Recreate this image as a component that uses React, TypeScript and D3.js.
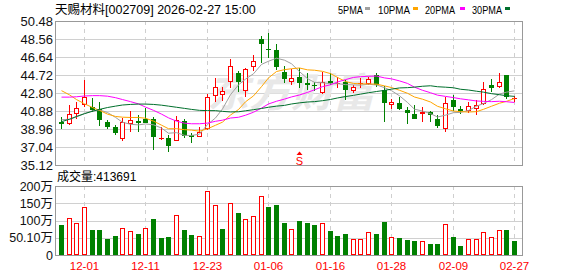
import React from 'react';
import * as d3 from 'd3';

const dates = [
  '11-26','11-27','11-28','12-01','12-02','12-03','12-04','12-05','12-08','12-09',
  '12-10','12-11','12-12','12-15','12-16','12-17','12-18','12-19','12-22','12-23',
  '12-24','12-25','12-26','12-29','12-30','12-31','01-05','01-06','01-07','01-08',
  '01-09','01-12','01-13','01-14','01-15','01-16','01-19','01-20','01-21','01-22',
  '01-23','01-26','01-27','01-28','01-29','01-30','02-02','02-03','02-04','02-05',
  '02-06','02-09','02-10','02-11','02-12','02-13','02-24','02-25','02-26','02-27'
];

const openP = [
  39.71,39.46,40.52,41.49,41.27,41.06,39.71,39.14,37.93,39.49,
  39.80,40.03,40.03,37.96,37.96,37.72,39.81,38.32,38.14,39.00,
  42.52,42.62,44.01,44.97,43.05,45.54,48.56,47.46,47.39,45.00,
  44.01,44.54,43.90,43.65,42.77,44.08,43.80,44.01,43.05,43.80,
  43.72,44.72,43.12,41.49,41.70,40.99,40.56,40.52,40.74,39.99,
  38.92,42.05,41.09,40.92,41.06,41.63,43.65,43.40,44.72,42.12
];
const highP = [
  40.28,41.52,41.88,44.19,42.27,41.84,39.92,39.39,40.10,40.92,
  40.45,41.17,40.28,39.21,38.32,40.35,40.06,38.57,39.14,42.69,
  44.36,43.48,46.39,45.18,45.50,46.85,48.88,49.17,48.03,45.68,
  45.32,45.43,44.97,44.01,45.07,44.97,44.54,44.19,43.65,44.40,
  44.54,44.90,43.58,42.16,42.41,41.27,41.52,41.27,40.92,40.45,
  42.41,42.59,41.41,41.84,42.05,44.01,44.26,44.97,44.72,42.48
];
const lowP = [
  39.00,39.40,40.03,41.27,40.81,39.28,38.93,38.32,37.71,38.68,
  38.68,39.56,36.72,37.79,36.47,37.65,37.96,37.43,38.07,38.85,
  41.88,41.98,43.30,42.94,42.41,45.18,46.04,46.50,45.25,43.83,
  43.65,43.30,43.12,43.05,42.69,43.65,43.30,42.05,42.84,43.33,
  43.65,43.47,39.74,41.06,40.99,39.49,39.99,39.74,39.74,39.03,
  38.68,40.92,40.56,40.63,40.45,41.52,42.94,43.30,42.16,41.88
];
const closeP = [
  39.53,40.52,41.16,42.34,40.99,39.92,39.17,38.57,39.74,39.92,
  39.60,39.64,38.14,38.00,37.15,39.92,38.21,38.07,38.68,42.34,
  43.40,43.01,45.68,43.94,45.36,46.25,48.03,47.39,45.54,44.30,
  44.36,43.83,43.65,43.58,44.01,43.90,43.88,43.12,43.40,43.85,
  44.26,43.65,41.70,41.81,41.09,40.70,40.06,40.74,40.42,39.28,
  41.70,41.34,40.92,41.45,41.52,43.19,43.37,43.94,42.41,42.23
];
const prevCloseBefore = 39.8;

// volume, in 万
const volume = [
  87,106,92,138,72,72,46,55,77,70,
  61,77,104,49,52,115,72,58,56,185,
  145,75,150,122,103,113,171,140,145,94,
  74,99,94,87,92,70,55,61,45,45,
  66,61,96,51,48,43,41,40,32,32,
  89,51,26,45,45,66,51,72,72,41.37
];

const ma5 = [
  39.95,40.00,40.25,40.60,40.91,40.99,40.72,40.20,39.68,39.46,
  39.40,39.50,39.41,39.06,38.51,38.57,38.28,38.27,38.41,39.44,
  40.14,41.10,42.62,43.67,44.28,44.85,45.85,46.19,46.51,46.30,
  45.92,45.08,44.33,43.94,43.89,43.79,43.80,43.69,43.66,43.63,
  43.73,43.66,43.37,43.05,42.50,41.79,41.07,40.88,40.60,40.24,
  40.44,40.70,40.73,40.94,41.39,41.68,42.09,42.69,42.89,43.03
];
const ma10 = [
  43.05,42.60,42.10,41.65,41.25,40.95,40.55,40.30,40.22,40.19,
  40.19,40.11,39.80,39.37,38.99,38.99,38.89,38.84,38.73,38.98,
  39.36,39.69,40.45,41.04,41.86,42.49,43.48,44.41,45.09,45.29,
  45.39,45.47,45.27,45.23,45.11,44.87,44.46,44.03,43.82,43.77,
  43.77,43.75,43.56,43.38,43.09,42.77,42.37,42.14,41.84,41.38,
  41.12,40.88,40.81,40.77,40.81,41.06,41.39,41.71,41.91,42.21
];
const ma20 = [
  42.36,42.36,42.40,42.48,42.52,42.52,42.46,42.30,42.10,41.88,
  41.64,41.30,40.95,40.55,40.15,39.80,39.58,39.52,39.52,39.59,
  39.78,39.90,40.13,40.21,40.43,40.75,41.19,41.63,41.92,42.15,
  42.38,42.59,42.86,43.14,43.48,43.68,43.97,44.23,44.46,44.54,
  44.58,44.61,44.41,44.31,44.09,43.82,43.42,43.09,42.83,42.57,
  42.44,42.31,42.18,42.07,41.95,41.91,41.88,41.92,41.87,41.79
];
const ma30 = [
  39.74,40.00,40.30,40.60,40.85,41.05,41.25,41.40,41.52,41.58,
  41.62,41.62,41.58,41.50,41.40,41.28,41.16,41.05,40.95,40.92,
  40.92,40.84,40.78,40.80,40.90,41.02,41.15,41.28,41.40,41.48,
  41.63,41.75,41.84,41.88,41.98,42.11,42.27,42.42,42.55,42.68,
  42.83,42.96,43.08,43.21,43.34,43.37,43.43,43.52,43.57,43.47,
  43.42,43.36,43.20,43.12,42.99,42.89,42.73,42.62,42.51,42.44
];

const priceTicks = [50.48, 48.56, 46.64, 44.72, 42.80, 40.88, 38.96, 37.04, 35.12];
const volTicks = [200, 150, 100, 50, 0];
const volTickLabels = ['200万', '150万', '100万', '50.10万', '0'];
const xTickDates = ['12-01', '12-11', '12-23', '01-06', '01-16', '01-28', '02-09', '02-27'];
const legendLabels = ['5PMA', '10PMA', '20PMA', '30PMA'];
const signalDate = '01-12';
const signalText = 'S';
const titleText = '天赐材料[002709] 2026-02-27 15:00';
const volTitle = '成交量:413691';
const watermark = '东方财富';

const RED = '#ff0000';
const GREEN = '#008000';
const MA_COLORS = ['#a0a0a0', '#ffa500', '#ff00ff', '#006f2c'];
const FONT = '"Liberation Sans", Arial, "Noto Sans CJK SC", sans-serif';

const L = 55.5, R = 522.5;
const MT = 21, MB = 165;
const VT = 186, VB = 255;

export default function App() {
  const x = d3.scaleBand<string>().domain(dates).range([57, 518]);
  const cx = (d: string) => Math.round((x(d) as number) + x.bandwidth() / 2);
  const y = d3.scaleLinear().domain([35.12, 50.48]).range([MB, MT]);
  const yv = d3.scaleLinear().domain([0, 200]).range([VB, VT]);
  const px = (v: number) => Math.round(v) + 0.5;

  const mas = [ma5, ma10, ma20, ma30];
  const lineGen = d3.line<number>()
    .x((_, i) => cx(dates[i]) + 0.5)
    .y((v) => y(v));

  const legendX = [338, 378, 425, 472];
  const legendW = [25, 32, 30, 30];
  const swatchX = [365, 413, 460, 505];

  return (
    <svg width={578} height={276} style={{ position: 'absolute', left: 0, top: 0, background: '#fff' }}
      fontFamily={FONT}>
      <rect x={0} y={0} width={578} height={276} fill="#fff" />
      {/* title */}
      <text x={55} y={14} fontSize={12.5} fill="#000">{titleText}</text>
      {legendLabels.map((t, i) => (
        <g key={t}>
          <text x={legendX[i]} y={14} fontSize={11} fill="#000" textLength={legendW[i]} lengthAdjust="spacingAndGlyphs">{t}</text>
          <rect x={swatchX[i]} y={7} width={5} height={3} fill={MA_COLORS[i]} />
        </g>
      ))}

      {/* main panel grid */}
      {priceTicks.slice(1, -1).map((p) => (
        <line key={p} x1={L} x2={R} y1={px(y(p))} y2={px(y(p))} stroke="#d0d0d0" />
      ))}
      {xTickDates.map((d) => (
        <line key={'mv' + d} x1={cx(d) + 0.5} x2={cx(d) + 0.5} y1={MT} y2={MB} stroke="#cfcfcf" strokeDasharray="4,4" />
      ))}
      {/* watermark */}
      <text x={207} y={107} fontSize={40} fontWeight="bold" fill="#e8e8e8" textLength={168}
        lengthAdjust="spacingAndGlyphs" fontFamily='"Noto Sans CJK SC", sans-serif' fontStyle="italic">{watermark}</text>

      {/* candles */}
      {dates.map((d, i) => {
        const o = openP[i], c = closeP[i], h = highP[i], l = lowP[i];
        const up = c >= o;
        const col = up ? RED : GREEN;
        const X = cx(d);
        const yt = Math.round(y(Math.max(o, c)));
        const yb = Math.round(y(Math.min(o, c)));
        const yh = Math.round(y(h));
        const yl = Math.round(y(l));
        if (yb - yt < 2) {
          return (
            <g key={d} shapeRendering="crispEdges">
              <line x1={X + 0.5} x2={X + 0.5} y1={yh} y2={yl} stroke={col} />
              <rect x={X - 2} y={yt} width={5} height={Math.max(1, yb - yt)} fill={col} />
            </g>
          );
        }
        if (up) {
          return (
            <g key={d} shapeRendering="crispEdges">
              <line x1={X + 0.5} x2={X + 0.5} y1={yh} y2={yt} stroke={col} />
              <line x1={X + 0.5} x2={X + 0.5} y1={yb} y2={yl} stroke={col} />
              <rect x={X - 1.5} y={yt + 0.5} width={4} height={yb - yt - 1} fill="#fff" stroke={col} />
            </g>
          );
        }
        return (
          <g key={d} shapeRendering="crispEdges">
            <line x1={X + 0.5} x2={X + 0.5} y1={yh} y2={yl} stroke={col} />
            <rect x={X - 2} y={yt} width={5} height={yb - yt} fill={col} />
          </g>
        );
      })}

      {/* MA lines */}
      {mas.map((m, k) => (
        <path key={k} d={lineGen(m) || ''} fill="none" stroke={MA_COLORS[k]} strokeWidth={1} />
      ))}

      {/* signal marker */}
      {(() => {
        const X = cx(signalDate) + 0.5;
        return (
          <g>
            <path d={`M${X - 3},155 L${X + 3},155 L${X},151.5 Z`} fill={RED} />
            <text x={X} y={164.5} fontSize={11} fill={RED} textAnchor="middle">{signalText}</text>
          </g>
        );
      })()}

      {/* main panel border */}
      <rect x={L} y={MT + 0.5} width={R - L} height={MB - MT} fill="none" stroke="#999" />
      <line x1={L} x2={R} y1={MB + 0.5} y2={MB + 0.5} stroke="#999" strokeWidth={1} />

      {/* price labels */}
      {priceTicks.map((p) => (
        <text key={'pl' + p} x={53} y={y(p)} dy="0.36em" fontSize={13} textAnchor="end" fill="#111">{p.toFixed(2)}</text>
      ))}

      {/* volume title */}
      <text x={57} y={181} fontSize={12} fill="#000">{volTitle}</text>

      {/* volume grid */}
      {volTicks.slice(1, -1).map((v) => (
        <line key={'vg' + v} x1={L} x2={R} y1={px(yv(v))} y2={px(yv(v))} stroke="#d0d0d0" />
      ))}
      {xTickDates.map((d) => (
        <line key={'vv' + d} x1={cx(d) + 0.5} x2={cx(d) + 0.5} y1={VT} y2={VB} stroke="#cfcfcf" strokeDasharray="4,4" />
      ))}

      {/* volume bars */}
      {dates.map((d, i) => {
        const prev = i === 0 ? prevCloseBefore : closeP[i - 1];
        const up = closeP[i] >= prev;
        const X = cx(d);
        const top = Math.round(yv(volume[i]));
        if (up) {
          return <rect key={'v' + d} x={X - 1.5} y={top + 0.5} width={4} height={VB - top - 1} fill="#fff" stroke={RED} shapeRendering="crispEdges" />;
        }
        return <rect key={'v' + d} x={X - 2} y={top} width={5} height={VB - top} fill={GREEN} shapeRendering="crispEdges" />;
      })}

      <rect x={L} y={VT + 0.5} width={R - L} height={VB - VT} fill="none" stroke="#999" />

      {/* volume labels */}
      {volTicks.map((v, i) => (
        <text key={'vl' + v} x={53} y={yv(v)} dy="0.36em" fontSize={12.5} textAnchor="end" fill="#111">{volTickLabels[i]}</text>
      ))}

      {/* x labels */}
      {xTickDates.map((d) => (
        <text key={'xl' + d} x={cx(d) + 0.5} y={270} fontSize={11.5} textAnchor="middle" fill={RED}>{d}</text>
      ))}
    </svg>
  );
}
